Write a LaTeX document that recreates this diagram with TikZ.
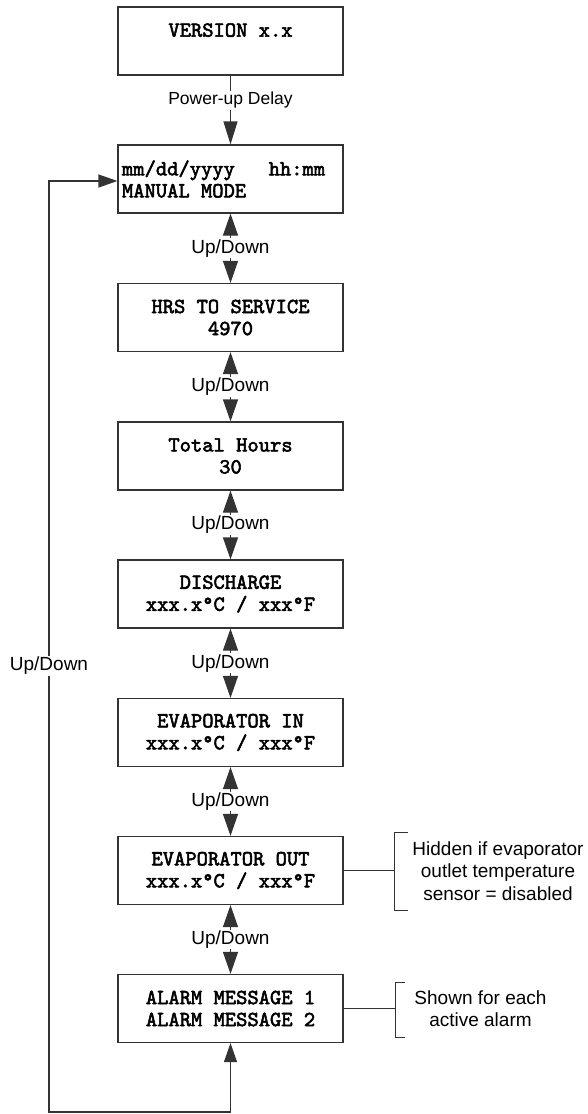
\documentclass[tikz,border=0pt]{standalone}
\usepackage{fontspec}
\setmainfont{Liberation Sans}
\newfontfamily\boxfont{lmmono10-regular}[Extension=.otf, FakeBold=2.5]
\usetikzlibrary{arrows.meta}
\definecolor{ln}{HTML}{333333}
\newcommand{\tsp}{\hspace*{0.525em}}
\tikzset{
  scrbox/.style={draw=ln, line width=1.2pt, minimum width=225pt, minimum height=68pt,
    inner sep=0pt, align=center, font=\boxfont\fontsize{21.5}{22}\selectfont},
  lbl/.style={font=\fontsize{19}{22.5}\selectfont, fill=white, inner sep=1pt},
  note/.style={font=\fontsize{19}{22.5}\selectfont, align=center, inner sep=0pt},
  conn/.style={draw=ln, line width=1.2pt},
  brk/.style={draw=ln, line width=1pt},
  tipud/.tip={Triangle[width=15pt,length=22pt]},
  tiplp/.tip={Triangle[width=13pt,length=19pt]},
  tippw/.tip={Triangle[width=14pt,length=23pt]},
}
\begin{document}
\begin{tikzpicture}[x=1pt,y=-1pt]
\useasboundingbox (0,0) rectangle (587,1114);
\node[scrbox] (b1) at (230.5,41) {VERSION x.x\\\mbox{}};
\node[scrbox, align=left, text width=217pt] (b2) at (230.5,179) {mm/dd/yyyy\tsp\tsp\tsp hh:mm\\MANUAL\tsp MODE};
\node[scrbox] (b3) at (230.5,317.5) {HRS TO SERVICE\\4970};
\node[scrbox] (b4) at (230.5,456) {Total Hours\\30};
\node[scrbox] (b5) at (230.5,594) {DISCHARGE\\xxx.x°C / xxx°F};
\node[scrbox] (b6) at (230.5,732.5) {EVAPORATOR IN\\xxx.x°C / xxx°F};
\node[scrbox] (b7) at (230.5,870.5) {EVAPORATOR OUT\\xxx.x°C / xxx°F};
\node[scrbox] (b8) at (230.5,1008.5) {ALARM MESSAGE 1\\ALARM MESSAGE 2};

\draw[conn, -tippw] (b1.south) -- node[lbl, pos=0.36, font=\fontsize{17.5}{21}\selectfont] (pd) {Power-up Delay} (b2.north);
\draw[conn, tipud-tipud] (b2.south) -- node[lbl] (ud1) {Up/Down} (b3.north);
\draw[conn, tipud-tipud] (b3.south) -- node[lbl] (ud2) {Up/Down} (b4.north);
\draw[conn, tipud-tipud] (b4.south) -- node[lbl] (ud3) {Up/Down} (b5.north);
\draw[conn, tipud-tipud] (b5.south) -- node[lbl] (ud4) {Up/Down} (b6.north);
\draw[conn, tipud-tipud] (b6.south) -- node[lbl] (ud5) {Up/Down} (b7.north);
\draw[conn, tipud-tipud] (b7.south) -- node[lbl] (ud6) {Up/Down} (b8.north);

\coordinate (lb) at (230.5,1112);
\coordinate (lt) at (49,181);
\draw[conn, tiplp-tiplp] (b8.south) -- (lb) -| (lt) -- (b2.west |- lt);
\node[lbl] (udl) at (49,666) {Up/Down};

% annotations
\coordinate (e1) at (394,832);
\coordinate (e2) at (394,910);
\draw[brk] (b7.east) -- (b7.east -| e1);
\draw[brk] ([xshift=14pt]e1) -- (e1) -- (e2) -- ([xshift=14pt]e2);
\node[note] (n1) at (498,871) {Hidden if evaporator\\outlet temperature\\sensor = disabled};

\coordinate (a1) at (395,982);
\coordinate (a2) at (395,1037);
\draw[brk] (b8.east) -- (b8.east -| a1);
\draw[brk] ([xshift=10pt]a1) -- (a1) -- (a2) -- ([xshift=10pt]a2);
\node[note] (n2) at (480.5,1008.5) {Shown for each\\active alarm};
\end{tikzpicture}
\end{document}
